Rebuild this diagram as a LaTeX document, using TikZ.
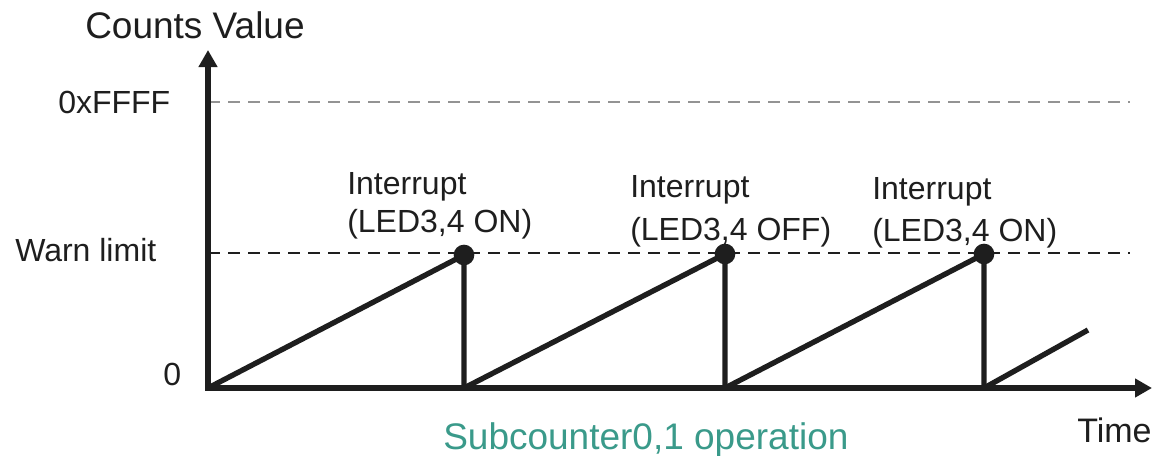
\documentclass[tikz,border=0pt]{standalone}
\usepackage{fontspec}
\setmainfont{Liberation Sans}
\usetikzlibrary{arrows.meta}
\definecolor{teal1}{HTML}{3A9A8A}
\definecolor{dgray}{HTML}{1E1E1E}
\begin{document}
\begin{tikzpicture}[x=0.75pt,y=-0.75pt,
  axis/.style={line width=4.2pt,dgray,-{Triangle[length=12.75pt,width=13.5pt]}},
  saw/.style={line width=4pt,dgray},
  lim/.style={line width=1.4pt,dash pattern=on 9pt off 6pt},
  dotnode/.style={circle,fill=dgray,inner sep=0pt,minimum size=15.5pt},
  lbl/.style={inner sep=0pt,anchor=base west,font=\fontsize{24}{28}\selectfont,text=dgray},
  big/.style={inner sep=0pt,anchor=base west,font=\fontsize{27.75}{32}\selectfont}]
\useasboundingbox (0,0) rectangle (1160,455);
% coordinates
\coordinate (O) at (208,388);
\coordinate (ytop) at (208,50);
\coordinate (xend) at (1152,388);
\coordinate (ffL) at (208,102);
\coordinate (ffR) at (1130,102);
\coordinate (wlL) at (208,253);
\coordinate (wlR) at (1130,253);
\coordinate (b1) at (464,388);
\coordinate (b2) at (725,388);
\coordinate (b3) at (984,388);
\coordinate (e4) at (1088,330);
% limit lines
\draw[lim,gray!85] (ffL) -- (ffR);
\draw[lim,dgray] (wlL) -- (wlR);
% dots
\node[dotnode] (d1) at (464,255) {};
\node[dotnode] (d2) at (725,254) {};
\node[dotnode] (d3) at (984,254) {};
% sawtooth
\draw[saw] (O) -- (d1.center) (d1.center) -- (b1);
\draw[saw] (b1) -- (d2.center) (d2.center) -- (b2);
\draw[saw] (b2) -- (d3.center) (d3.center) -- (b3);
\draw[saw] (b3) -- (e4);
% axes
\draw[axis] ([yshift=-2.1pt]O) -- (ytop);
\draw[axis] ([xshift=-2.1pt]O) -- (xend);
% labels
\node[big,text=dgray] (cv) at (85,38) {Counts Value};
\node[lbl] (ff) at (58,113) {0xFFFF};
\node[lbl] (wl) at (15,261) {Warn limit};
\node[lbl] (zero) at (163,385) {0};
\node[lbl] (i1) at (347,194) {Interrupt};
\node[lbl] (s1) at (347,232) {(LED3,4 ON)};
\node[lbl] (i2) at (630,197) {Interrupt};
\node[lbl] (s2) at (630,240) {(LED3,4 OFF)};
\node[lbl] (i3) at (872,199) {Interrupt};
\node[lbl] (s3) at (872,241) {(LED3,4 ON)};
\node[lbl,font=\fontsize{25.5}{30}\selectfont] (tm) at (1077,442) {Time};
\node[big,text=teal1] (sub) at (443,449) {Subcounter0,1 operation};
\end{tikzpicture}
\end{document}
